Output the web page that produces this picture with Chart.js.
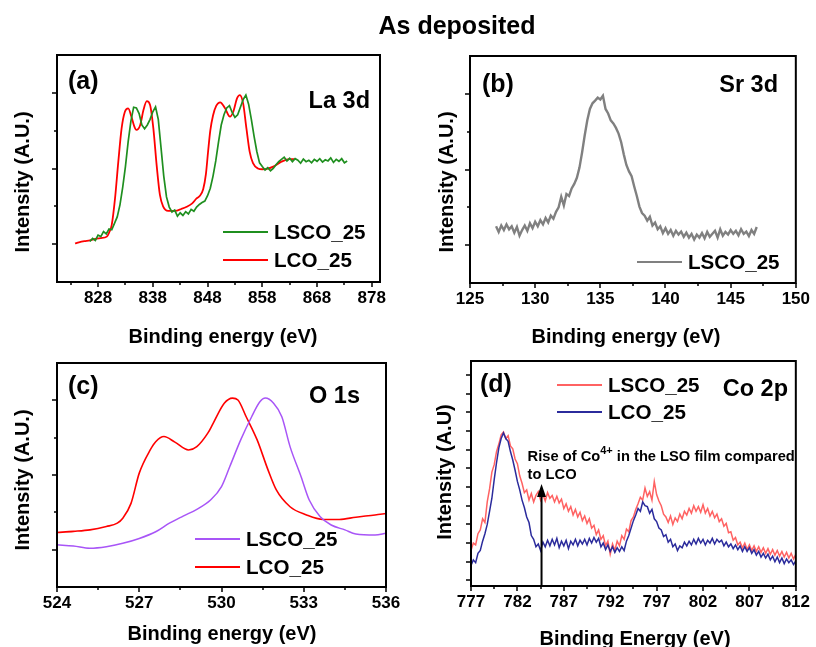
<!DOCTYPE html>
<html>
<head>
<meta charset="utf-8">
<script src="https://cdn.jsdelivr.net/npm/chart.js@4.4.0/dist/chart.umd.min.js"></script>
<style>
  html, body { margin: 0; padding: 0; background: #fff; }
  #wrap { position: relative; width: 816px; height: 647px; overflow: hidden; }
  #wrap canvas { position: absolute; left: 0; top: 0; }
</style>
</head>
<body>
<div id="wrap">
  <canvas id="panelA" width="816" height="647"></canvas>
  <canvas id="panelB" width="816" height="647"></canvas>
  <canvas id="panelC" width="816" height="647"></canvas>
  <canvas id="panelD" width="816" height="647"></canvas>
</div>
<script>
// ---- (a) La 3d ----
const laTicks = [828, 838, 848, 858, 868, 878];
const laMinor = [823, 833, 843, 853, 863, 873];
// LSCO_25, measured every 0.5 eV from 826.5 eV
const laLscoStart = 826.5, laLscoStep = 0.5;
const laLsco = [1.07,1.15,1.10,1.24,1.20,1.33,1.27,1.40,1.38,1.55,
  1.72,2.04,2.50,3.05,3.71,4.25,4.62,4.60,4.45,4.15,
  4.05,4.15,4.30,4.50,4.63,4.30,3.55,2.80,2.25,1.98,
  1.85,1.90,1.74,1.83,1.76,1.86,1.80,1.92,1.87,1.98,
  2.05,2.10,2.14,2.28,2.48,2.80,3.20,3.70,4.15,4.42,
  4.60,4.66,4.48,4.35,4.42,4.62,4.82,4.94,4.70,4.30,
  3.85,3.45,3.15,3.05,2.96,3.02,2.94,3.00,3.10,3.18,
  3.24,3.30,3.20,3.27,3.18,3.26,3.22,3.14,3.25,3.18,
  3.22,3.15,3.24,3.19,3.26,3.17,3.23,3.20,3.28,3.16,
  3.24,3.19,3.26,3.15,3.20];
const laLcoEnergy = [823.8,824.5,825.5,826.5,827.5,828.5,829.6,830.0,830.5,831.1,
  831.7,832.3,832.9,833.5,834.1,834.6,835.0,835.7,836.3,836.9,
  837.5,838.1,838.7,839.3,839.9,840.8,842.1,843.2,844.2,845.2,
  846.0,846.6,847.2,847.7,848.1,848.5,849.0,849.6,850.3,851.2,
  852.1,852.7,853.4,853.9,854.5,855.1,855.7,856.3,857.2,858.0,
  858.8,860.0,861.5,863.0,863.9];
const laLco = [1.02,1.05,1.08,1.10,1.14,1.16,1.20,1.30,1.51,2.21,
  3.18,4.06,4.50,4.59,4.37,4.12,4.02,4.15,4.55,4.78,
  4.68,4.06,3.09,2.30,1.99,1.88,1.88,1.93,1.99,2.08,
  2.21,2.28,2.45,2.85,3.45,4.00,4.40,4.66,4.75,4.59,
  4.37,4.50,4.86,4.94,4.72,4.06,3.44,3.14,3.00,2.98,
  2.99,3.05,3.18,3.25,3.25];

// ---- (b) Sr 3d ----
const srTicks = [125, 130, 135, 140, 145, 150];
const srMinor = [127.5, 132.5, 137.5, 142.5, 147.5];
const srStart = 127.0, srStep = 0.2;
const srLsco = [1.50,1.35,1.52,1.40,1.55,1.42,1.50,1.33,1.48,1.25,
  1.40,1.52,1.38,1.58,1.45,1.62,1.50,1.66,1.55,1.72,
  1.60,1.78,1.70,1.88,2.00,2.28,2.05,2.35,2.30,2.50,
  2.62,2.78,3.05,3.45,3.90,4.30,4.60,4.75,4.82,4.90,
  4.85,4.95,4.60,4.48,4.30,4.22,4.10,3.95,3.72,3.40,
  3.12,2.95,2.82,2.55,2.30,2.02,1.85,1.78,1.65,1.75,
  1.52,1.60,1.42,1.50,1.32,1.45,1.30,1.40,1.25,1.38,
  1.28,1.36,1.22,1.33,1.20,1.30,1.15,1.28,1.20,1.32,
  1.18,1.35,1.22,1.30,1.38,1.20,1.42,1.25,1.35,1.28,
  1.40,1.30,1.38,1.26,1.42,1.30,1.36,1.24,1.40,1.30,
  1.48];

// ---- (c) O 1s ----
const oTicks = [524, 527, 530, 533, 536];
const oMinor = [525.5, 528.5, 531.5, 534.5];
const oLscoEnergy = [524.0,524.6,525.2,525.8,526.4,527.0,527.6,528.1,528.6,529.1,
  529.6,530.0,530.3,530.7,531.1,531.4,531.6,531.9,532.2,532.5,
  532.9,533.2,533.6,534.0,534.5,534.9,535.6,536.0];
const oLsco = [1.13,1.10,1.04,1.08,1.17,1.30,1.48,1.71,1.90,2.08,
  2.33,2.69,3.22,3.94,4.56,4.96,5.06,4.92,4.56,3.76,
  2.96,2.33,1.88,1.66,1.53,1.42,1.39,1.44];
const oLcoEnergy = [524.0,524.6,525.2,525.8,526.2,526.4,526.7,527.0,527.4,527.6,
  527.9,528.3,528.8,529.1,529.5,529.7,530.1,530.4,530.6,530.9,
  531.3,531.7,532.0,532.5,533.1,533.7,534.3,534.9,535.6,536.0];
const oLco = [1.46,1.49,1.53,1.62,1.71,1.84,2.24,3.05,3.67,3.89,
  4.03,3.88,3.67,3.76,4.12,4.39,4.92,5.06,5.01,4.56,
  3.94,3.13,2.60,2.15,1.93,1.81,1.81,1.87,1.93,1.97];

// ---- (d) Co 2p ----
const coTicks = [777, 782, 787, 792, 797, 802, 807, 812];
const coMinor = [779.5, 784.5, 789.5, 794.5, 799.5, 804.5, 809.5];
const coYTicks = [0, 1, 2, 3, 4, 5, 6, 7, 8, 9, 10, 11];
const coStart = 777.0, coStep = 0.25;
const coLsco = [1.60,2.00,1.90,2.50,2.70,3.30,3.10,4.20,4.90,5.80,
  6.20,6.90,7.30,7.80,7.95,7.60,7.75,7.20,7.05,6.50,
  6.25,5.60,5.20,4.70,4.85,4.30,4.65,4.20,4.55,4.75,
  4.30,4.60,4.25,4.70,4.40,4.55,4.20,4.50,4.15,4.35,
  3.85,4.10,3.70,3.95,3.50,3.80,3.40,3.65,3.20,3.45,
  3.05,3.30,2.80,2.95,2.45,2.70,2.20,2.40,1.85,2.10,
  1.40,1.95,1.60,2.10,1.85,2.40,2.20,2.75,2.60,3.20,
  3.40,3.80,4.10,4.45,4.30,4.95,4.50,4.75,4.30,5.30,
  4.60,4.25,4.00,3.55,3.40,3.10,3.45,3.00,3.35,3.15,
  3.55,3.30,3.70,3.50,3.85,3.60,4.00,3.70,3.95,3.65,
  4.05,3.60,3.85,3.45,3.70,3.35,3.55,3.15,3.30,2.90,
  3.05,2.55,2.60,2.15,2.30,1.90,2.05,1.75,2.00,1.65,
  1.90,1.60,1.85,1.55,1.80,1.50,1.75,1.45,1.70,1.40,
  1.65,1.35,1.60,1.30,1.55,1.25,1.50,1.20,1.45,1.15,
  1.40];
const coLco = [0.80,1.10,0.95,1.45,1.60,2.10,2.50,3.00,3.70,4.40,
  5.40,6.30,7.10,7.60,7.90,7.60,7.45,6.90,6.45,5.90,
  5.30,4.85,4.30,3.90,3.40,3.10,2.40,2.20,1.80,1.95,
  1.60,2.05,1.80,2.15,1.85,2.20,1.90,2.25,1.75,2.10,
  1.85,2.15,1.70,2.10,1.90,2.20,1.85,2.15,1.95,2.20,
  1.90,2.25,2.00,2.30,2.05,2.25,1.80,2.00,1.65,1.90,
  1.55,1.80,1.50,1.75,1.55,1.80,1.60,2.10,2.40,2.80,
  3.20,3.50,3.85,3.70,4.20,4.00,3.95,3.60,3.80,3.30,
  3.15,2.80,2.70,2.35,2.45,2.05,2.20,1.80,1.95,1.60,
  1.85,1.75,2.05,1.85,2.10,1.90,2.20,1.95,2.25,2.00,
  2.20,1.90,2.15,2.00,2.25,1.95,2.20,2.05,2.15,1.85,
  2.05,1.80,1.95,1.70,1.90,1.65,1.85,1.55,1.80,1.55,
  1.75,1.45,1.65,1.35,1.55,1.25,1.45,1.20,1.40,1.10,
  1.30,1.00,1.25,0.95,1.20,0.90,1.15,0.95,1.10,0.85,
  1.05];
// arrow marking the Co4+ rise
const coArrow = { energy: 784.6, top: 5.16 };

// intensity ticks (arbitrary units) used by panels a-c
const intMajor = [1, 3, 5];
const intMinor = [2, 4];

const FONT = '"Liberation Sans", Arial, Helvetica, sans-serif';
Chart.defaults.font.family = FONT;
Chart.defaults.color = '#000';

function paired(xs, ys) { return ys.map((y, i) => ({ x: xs[i], y: y })); }
function stepped(start, step, ys) { return ys.map((y, i) => ({ x: +(start + i * step).toFixed(3), y: y })); }

// draws frame, ticks, legend and labels on top of the plot
function decor(p) {
  return {
    id: 'decor',
    afterDraw(chart) {
      const ctx = chart.ctx, a = chart.chartArea;
      const sx = chart.scales.x, sy = chart.scales.y;
      ctx.save();
      ctx.strokeStyle = '#000';
      ctx.lineWidth = 1.5;
      ctx.beginPath();
      p.xMajor.forEach(v => { const q = Math.round(sx.getPixelForValue(v)); ctx.moveTo(q, a.bottom); ctx.lineTo(q, a.bottom + 5); });
      p.xMinor.forEach(v => { const q = Math.round(sx.getPixelForValue(v)); ctx.moveTo(q, a.bottom); ctx.lineTo(q, a.bottom + 3); });
      p.yMajor.forEach(v => { const q = Math.round(sy.getPixelForValue(v)); ctx.moveTo(a.left, q); ctx.lineTo(a.left - 5, q); });
      p.yMinor.forEach(v => { const q = Math.round(sy.getPixelForValue(v)); ctx.moveTo(a.left, q); ctx.lineTo(a.left - 3, q); });
      ctx.stroke();
      ctx.lineWidth = 2;
      ctx.strokeRect(a.left, a.top, a.right - a.left, a.bottom - a.top);

      // legend
      const lg = p.legend;
      lg.order.forEach((idx, i) => {
        const ds = chart.data.datasets[idx];
        const y = lg.y + i * lg.gap;
        ctx.strokeStyle = ds.borderColor;
        ctx.lineWidth = 1.8;
        ctx.beginPath();
        ctx.moveTo(lg.x, y);
        ctx.lineTo(lg.x + 45, y);
        ctx.stroke();
        ctx.fillStyle = '#000';
        ctx.font = 'bold 20.6px ' + FONT;
        ctx.textAlign = 'left';
        ctx.textBaseline = 'middle';
        ctx.fillText(ds.label, lg.x + 51, y + 1);
      });

      p.texts.forEach(t => {
        ctx.save();
        ctx.fillStyle = '#000';
        ctx.font = 'bold ' + t.size + 'px ' + FONT;
        ctx.textAlign = t.align || 'left';
        ctx.textBaseline = t.base || 'alphabetic';
        ctx.translate(t.x, t.y);
        if (t.rot) ctx.rotate(t.rot);
        ctx.fillText(t.text, 0, 0);
        ctx.restore();
      });

      if (p.arrow) {
        const ax = sx.getPixelForValue(p.arrow.energy);
        const ay = sy.getPixelForValue(p.arrow.top);
        ctx.strokeStyle = '#000';
        ctx.fillStyle = '#000';
        ctx.lineWidth = 2;
        ctx.beginPath();
        ctx.moveTo(ax, a.bottom);
        ctx.lineTo(ax, ay + 10);
        ctx.stroke();
        ctx.beginPath();
        ctx.moveTo(ax, ay);
        ctx.lineTo(ax - 4.5, ay + 13);
        ctx.lineTo(ax + 4.5, ay + 13);
        ctx.closePath();
        ctx.fill();

        // note text with superscript
        const nx = sx.getPixelForValue(p.note.energy);
        const y1 = sy.getPixelForValue(p.note.line1);
        const y2 = sy.getPixelForValue(p.note.line2);
        ctx.textAlign = 'left';
        ctx.textBaseline = 'middle';
        ctx.font = 'bold 14.7px ' + FONT;
        let x = nx;
        ctx.fillText('Rise of Co', x, y1);
        x += ctx.measureText('Rise of Co').width;
        ctx.font = 'bold 11px ' + FONT;
        ctx.fillText('4+', x, y1 - 6);
        x += ctx.measureText('4+').width;
        ctx.font = 'bold 14.7px ' + FONT;
        ctx.fillText(' in the LSO film compared', x, y1);
        ctx.fillText('to LCO', nx, y2);
      }
      ctx.restore();
    }
  };
}

function makePanel(id, p) {
  const b = p.box;
  return new Chart(document.getElementById(id), {
    type: 'line',
    data: {
      datasets: p.series.map(s => ({
        label: s.label,
        data: s.data,
        borderColor: s.color,
        borderWidth: s.width,
        pointRadius: 0,
        fill: false,
        tension: s.smooth ? 0.4 : 0,
        cubicInterpolationMode: s.smooth ? 'monotone' : 'default'
      }))
    },
    options: {
      responsive: false,
      animation: false,
      events: [],
      layout: { padding: { left: b.left, top: b.top, right: 816 - b.right, bottom: 647 - b.bottom - 40 } },
      plugins: { legend: { display: false }, tooltip: { enabled: false } },
      scales: {
        x: {
          type: 'linear',
          min: p.xMin,
          max: p.xMax,
          afterBuildTicks: s => { s.ticks = p.xMajor.map(v => ({ value: v })); },
          afterFit: s => { s.height = 40; },
          grid: { display: false, drawTicks: false },
          border: { display: false },
          ticks: { autoSkip: false, maxRotation: 0, padding: 6, font: { size: 17, weight: 'bold' }, callback: v => String(v) }
        },
        y: { display: false, min: p.yMin, max: p.yMax }
      }
    },
    plugins: [decor(p)]
  });
}

const yTitle = (text, x, y) => ({ text, x, y, size: 20, align: 'center', base: 'middle', rot: -Math.PI / 2 });

makePanel('panelA', {
  box: { left: 57, top: 55, right: 380, bottom: 282 },
  xMin: 820.5, xMax: 879.5, yMin: 0, yMax: 6,
  xMajor: laTicks, xMinor: laMinor, yMajor: intMajor, yMinor: intMinor,
  series: [
    { label: 'LSCO_25', data: stepped(laLscoStart, laLscoStep, laLsco), color: '#1f8f1f', width: 1.7 },
    { label: 'LCO_25', data: paired(laLcoEnergy, laLco), color: '#ff0000', width: 1.8, smooth: true }
  ],
  legend: { x: 223, y: 232, gap: 28, order: [0, 1] },
  texts: [
    { text: 'As deposited', x: 457, y: 34, size: 25, align: 'center' },
    { text: '(a)', x: 68, y: 89, size: 25 },
    { text: 'La 3d', x: 370, y: 108, size: 23.5, align: 'right' },
    { text: 'Binding energy (eV)', x: 223, y: 343, size: 20, align: 'center' },
    yTitle('Intensity (A.U.)', 23, 182)
  ]
});

makePanel('panelB', {
  box: { left: 470, top: 56, right: 800, bottom: 283 },
  xMin: 125, xMax: 150, yMin: 0, yMax: 6,
  xMajor: srTicks, xMinor: srMinor, yMajor: intMajor, yMinor: intMinor,
  series: [
    { label: 'LSCO_25', data: stepped(srStart, srStep, srLsco), color: '#808080', width: 2.4 }
  ],
  legend: { x: 637, y: 262, gap: 28, order: [0] },
  texts: [
    { text: '(b)', x: 482, y: 92, size: 25 },
    { text: 'Sr 3d', x: 778, y: 92, size: 23.5, align: 'right' },
    { text: 'Binding energy (eV)', x: 626, y: 343, size: 20, align: 'center' },
    yTitle('Intensity (A.U.)', 447, 182)
  ]
});

makePanel('panelC', {
  box: { left: 57, top: 363, right: 386, bottom: 587 },
  xMin: 524, xMax: 536, yMin: 0, yMax: 6,
  xMajor: oTicks, xMinor: oMinor, yMajor: intMajor, yMinor: intMinor,
  series: [
    { label: 'LSCO_25', data: paired(oLscoEnergy, oLsco), color: '#a855f7', width: 1.5, smooth: true },
    { label: 'LCO_25', data: paired(oLcoEnergy, oLco), color: '#ff0000', width: 1.6, smooth: true }
  ],
  legend: { x: 195, y: 539, gap: 28, order: [0, 1] },
  texts: [
    { text: '(c)', x: 68, y: 394, size: 25 },
    { text: 'O 1s', x: 360, y: 403, size: 23.5, align: 'right' },
    { text: 'Binding energy (eV)', x: 222, y: 640, size: 20, align: 'center' },
    yTitle('Intensity (A.U.)', 23, 480)
  ]
});

makePanel('panelD', {
  box: { left: 471, top: 361, right: 799, bottom: 586 },
  xMin: 777, xMax: 812, yMin: -0.3, yMax: 11.75,
  xMajor: coTicks, xMinor: coMinor, yMajor: coYTicks, yMinor: [],
  series: [
    { label: 'LCO_25', data: stepped(coStart, coStep, coLco), color: '#2b2b9c', width: 1.5 },
    { label: 'LSCO_25', data: stepped(coStart, coStep, coLsco), color: '#ff6262', width: 1.5 }
  ],
  legend: { x: 557, y: 385, gap: 27, order: [1, 0] },
  arrow: coArrow,
  note: { energy: 783.1, line1: 6.61, line2: 5.65 },
  texts: [
    { text: '(d)', x: 480, y: 392, size: 25 },
    { text: 'Co 2p', x: 788, y: 396, size: 23.5, align: 'right' },
    { text: 'Binding Energy (eV)', x: 635, y: 645, size: 20, align: 'center' },
    yTitle('Intensity (A.U)', 445, 472)
  ]
});
</script>
</body>
</html>
